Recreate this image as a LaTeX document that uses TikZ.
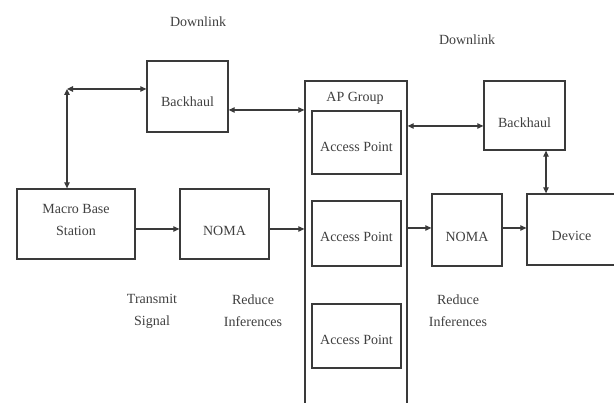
\documentclass[tikz,border=0pt]{standalone}
\usepackage{fontspec}
\setmainfont{Liberation Serif}
\usetikzlibrary{arrows.meta}
\definecolor{ln}{HTML}{3A3A3A}
\definecolor{tx}{HTML}{404040}
\newcommand\lowr[2]{\raisebox{-#1}[9.5pt][0pt]{#2}}
\tikzset{
  blk/.style={draw=ln, line width=1.3pt, inner sep=0pt, text=tx, align=center,
    font=\fontsize{14}{22}\selectfont},
  lbl/.style={text=tx, align=center, inner sep=0pt, font=\fontsize{14}{22}\selectfont},
  con/.style={draw=ln, line width=1.2pt, -{Triangle[length=6pt,width=5.5pt]}},
  bicon/.style={draw=ln, line width=1.2pt, {Triangle[length=6pt,width=5.5pt]}-{Triangle[length=6pt,width=5.5pt]}}
}
\begin{document}
\begin{tikzpicture}[x=1pt,y=-1pt]
\useasboundingbox (0,0) rectangle (614,403);
\clip (0,0) rectangle (614,403);
\fill[white] (0,0) rectangle (614,403);
% boxes
\node[blk, minimum width=81pt, minimum height=71pt] (bh1) at (187.5,96.5) {\lowr{5.5pt}{Backhaul}};
\node[blk, minimum width=102pt, minimum height=329pt] (apg) at (356,245.5) {};
\node[lbl] (apgl) at (355,98) {AP Group};
\node[blk, minimum width=89pt, minimum height=63pt] (ap1) at (356.5,142.5) {\lowr{4pt}{Access Point}};
\node[blk, minimum width=89pt, minimum height=65pt] (ap2) at (356.5,233.5) {\lowr{3pt}{Access Point}};
\node[blk, minimum width=89pt, minimum height=64pt] (ap3) at (356.5,336) {\lowr{4pt}{Access Point}};
\node[blk, minimum width=81pt, minimum height=69pt] (bh2) at (524.5,115.5) {\lowr{7pt}{Backhaul}};
\node[blk, minimum width=118pt, minimum height=70pt] (macro) at (76,224) {\raisebox{4pt}[\height][\depth]{\begin{tabular}{@{}c@{}}Macro Base\\Station\end{tabular}}};
\node[blk, minimum width=89pt, minimum height=70pt] (noma1) at (224.5,224) {\lowr{7pt}{NOMA}};
\node[blk, minimum width=70pt, minimum height=72pt] (noma2) at (467,230) {\lowr{7pt}{NOMA}};
\node[blk, minimum width=89pt, minimum height=71pt] (dev) at (571.5,229.5) {\lowr{6pt}{Device}};
% labels
\node[lbl] (dl1) at (198,22) {Downlink};
\node[lbl] (dl2) at (467,40) {Downlink};
\node[lbl] (ts) at (152,311) {Transmit\\Signal};
\node[lbl] (ri1) at (253,311) {Reduce\\Inferences};
\node[lbl] (ri2) at (458,311) {Reduce\\Inferences};
% connectors
\coordinate (c) at (67,89);
\draw[bicon] (c) -- (bh1.west |- c);
\draw[bicon] (c) -- (c |- macro.north);
\draw[bicon] ([yshift=-13.5pt]bh1.east) -- ([yshift=-13.5pt]bh1.east -| apg.west);
\draw[bicon] ([yshift=-10.5pt]bh2.west) -- ([yshift=-10.5pt]bh2.west -| apg.east);
\draw[bicon] ([xshift=21.5pt]bh2.south) -- ([xshift=21.5pt]bh2.south |- dev.north);
\draw[con] ([yshift=-5pt]macro.east) -- ([yshift=-5pt]noma1.west);
\draw[con] ([yshift=-5pt]noma1.east) -- ([yshift=-5pt]noma1.east -| apg.west);
\draw[con] ([yshift=2pt]noma2.west -| apg.east) -- ([yshift=2pt]noma2.west);
\draw[con] ([yshift=2pt]noma2.east) -- ([yshift=2pt]noma2.east -| dev.west);
\end{tikzpicture}
\end{document}
